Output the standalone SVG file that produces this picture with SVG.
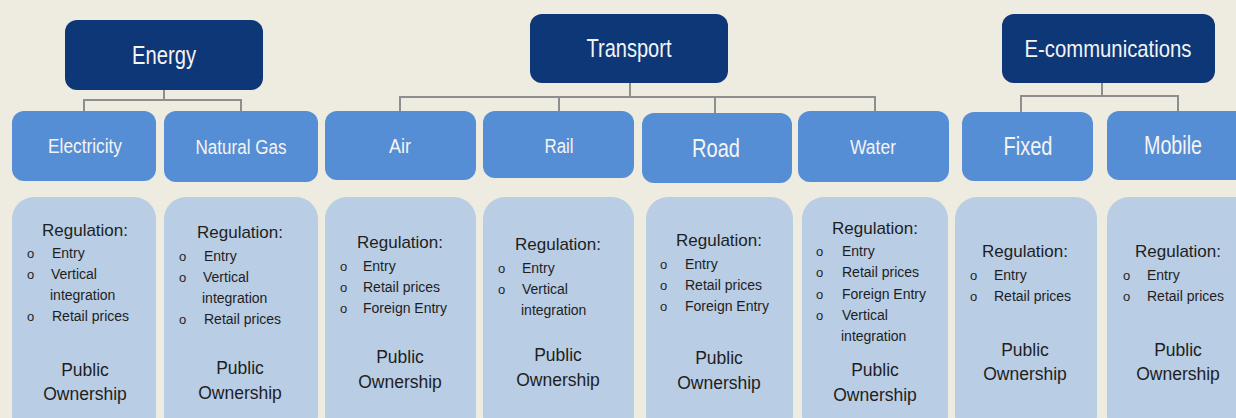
<svg xmlns="http://www.w3.org/2000/svg" width="1236" height="418" viewBox="0 0 1236 418">
  <style>
    .bg { fill: #EEEBE1; }
    .sector { fill: #0E3778; }
    .sub { fill: #568ED5; }
    .detail { fill: #B9CDE5; }
    .head { font-family: "Liberation Sans", Arial, sans-serif; fill: #F4F4F4; text-anchor: middle; }
    .body { font-family: "Liberation Sans", Arial, sans-serif; fill: #1E1E1E; }
    .title { font-size: 17px; text-anchor: middle; }
    .item { font-size: 14px; }
    .dot { font-size: 13px; }
    .own { font-size: 17.5px; text-anchor: middle; }
    .link { fill: none; stroke: #8E8E8E; stroke-width: 2; }
  </style>

  <rect class="bg" x="0" y="0" width="1236" height="418"/>

  <!-- tree connectors -->
  <g id="connectors">
    <path class="link" d="M164 90 V100 M84 111 V100 H241 V111"/>
    <path class="link" d="M630 83 V97 M400 111 V97 H875 V111 M559 97 V111 M715 97 V113"/>
    <path class="link" d="M1102 83 V96 M1021 112 V96 H1178 V111"/>
  </g>

  <!-- sectors -->
  <g id="energy">
    <rect class="sector" x="65" y="20" width="198" height="70" rx="12"/>
    <text class="head" x="164" y="64" font-size="25" textLength="64" lengthAdjust="spacingAndGlyphs">Energy</text>
  </g>
  <g id="transport">
    <rect class="sector" x="530" y="14" width="198" height="69" rx="12"/>
    <text class="head" x="629" y="57" font-size="25" textLength="85" lengthAdjust="spacingAndGlyphs">Transport</text>
  </g>
  <g id="ecommunications">
    <rect class="sector" x="1002" y="14" width="213" height="69" rx="12"/>
    <text class="head" x="1108" y="57" font-size="24" textLength="167" lengthAdjust="spacingAndGlyphs">E-communications</text>
  </g>

  <!-- sub-sectors -->
  <g id="electricity">
    <rect class="sub" x="12" y="111" width="144" height="70" rx="12"/>
    <text class="head" x="85" y="153" font-size="20" textLength="74" lengthAdjust="spacingAndGlyphs">Electricity</text>
  </g>
  <g id="natural-gas">
    <rect class="sub" x="164" y="111" width="154" height="71" rx="12"/>
    <text class="head" x="241" y="154" font-size="20" textLength="91" lengthAdjust="spacingAndGlyphs">Natural Gas</text>
  </g>
  <g id="air">
    <rect class="sub" x="325" y="111" width="151" height="69" rx="12"/>
    <text class="head" x="400" y="153" font-size="20" textLength="22" lengthAdjust="spacingAndGlyphs">Air</text>
  </g>
  <g id="rail">
    <rect class="sub" x="483" y="111" width="151" height="67" rx="12"/>
    <text class="head" x="559" y="153" font-size="20" textLength="29" lengthAdjust="spacingAndGlyphs">Rail</text>
  </g>
  <g id="road">
    <rect class="sub" x="642" y="113" width="150" height="70" rx="12"/>
    <text class="head" x="716" y="157" font-size="25" textLength="48" lengthAdjust="spacingAndGlyphs">Road</text>
  </g>
  <g id="water">
    <rect class="sub" x="798" y="111" width="151" height="71" rx="12"/>
    <text class="head" x="873" y="154" font-size="20" textLength="46" lengthAdjust="spacingAndGlyphs">Water</text>
  </g>
  <g id="fixed">
    <rect class="sub" x="962" y="112" width="131" height="69" rx="12"/>
    <text class="head" x="1028" y="155" font-size="25" textLength="49" lengthAdjust="spacingAndGlyphs">Fixed</text>
  </g>
  <g id="mobile">
    <rect class="sub" x="1107" y="111" width="145" height="69" rx="12"/>
    <text class="head" x="1173" y="154" font-size="25" textLength="58" lengthAdjust="spacingAndGlyphs">Mobile</text>
  </g>

  <!-- regulation / ownership details -->
  <g id="electricity-detail" class="body">
    <rect class="detail" x="12" y="197" width="144" height="240" rx="22"/>
    <text class="title" x="85" y="236">Regulation:</text>
    <text class="dot" x="27" y="258">o</text><text class="item" x="52" y="258">Entry</text>
    <text class="dot" x="27" y="279">o</text><text class="item" x="51" y="279">Vertical</text>
    <text class="item" x="50" y="300">integration</text>
    <text class="dot" x="27" y="321">o</text><text class="item" x="52" y="321">Retail prices</text>
    <text class="own" x="85" y="376">Public</text>
    <text class="own" x="85" y="400">Ownership</text>
  </g>
  <g id="natural-gas-detail" class="body">
    <rect class="detail" x="164" y="197" width="154" height="240" rx="22"/>
    <text class="title" x="240" y="238">Regulation:</text>
    <text class="dot" x="179" y="261">o</text><text class="item" x="204" y="261">Entry</text>
    <text class="dot" x="179" y="282">o</text><text class="item" x="203" y="282">Vertical</text>
    <text class="item" x="202" y="303">integration</text>
    <text class="dot" x="179" y="324">o</text><text class="item" x="204" y="324">Retail prices</text>
    <text class="own" x="240" y="374">Public</text>
    <text class="own" x="240" y="399">Ownership</text>
  </g>
  <g id="air-detail" class="body">
    <rect class="detail" x="325" y="197" width="151" height="240" rx="22"/>
    <text class="title" x="400" y="248">Regulation:</text>
    <text class="dot" x="340" y="271">o</text><text class="item" x="363" y="271">Entry</text>
    <text class="dot" x="340" y="292">o</text><text class="item" x="363" y="292">Retail prices</text>
    <text class="dot" x="340" y="313">o</text><text class="item" x="363" y="313">Foreign Entry</text>
    <text class="own" x="400" y="363">Public</text>
    <text class="own" x="400" y="388">Ownership</text>
  </g>
  <g id="rail-detail" class="body">
    <rect class="detail" x="483" y="197" width="151" height="240" rx="22"/>
    <text class="title" x="558" y="250">Regulation:</text>
    <text class="dot" x="498" y="273">o</text><text class="item" x="522" y="273">Entry</text>
    <text class="dot" x="498" y="294">o</text><text class="item" x="522" y="294">Vertical</text>
    <text class="item" x="521" y="315">integration</text>
    <text class="own" x="558" y="361">Public</text>
    <text class="own" x="558" y="386">Ownership</text>
  </g>
  <g id="road-detail" class="body">
    <rect class="detail" x="646" y="197" width="147" height="240" rx="22"/>
    <text class="title" x="719" y="246">Regulation:</text>
    <text class="dot" x="660" y="269">o</text><text class="item" x="685" y="269">Entry</text>
    <text class="dot" x="660" y="290">o</text><text class="item" x="685" y="290">Retail prices</text>
    <text class="dot" x="660" y="311">o</text><text class="item" x="685" y="311">Foreign Entry</text>
    <text class="own" x="719" y="364">Public</text>
    <text class="own" x="719" y="389">Ownership</text>
  </g>
  <g id="water-detail" class="body">
    <rect class="detail" x="802" y="197" width="146" height="240" rx="22"/>
    <text class="title" x="875" y="234">Regulation:</text>
    <text class="dot" x="816" y="256">o</text><text class="item" x="842" y="256">Entry</text>
    <text class="dot" x="816" y="277">o</text><text class="item" x="842" y="277">Retail prices</text>
    <text class="dot" x="816" y="299">o</text><text class="item" x="842" y="299">Foreign Entry</text>
    <text class="dot" x="816" y="320">o</text><text class="item" x="842" y="320">Vertical</text>
    <text class="item" x="841" y="341">integration</text>
    <text class="own" x="875" y="376">Public</text>
    <text class="own" x="875" y="401">Ownership</text>
  </g>
  <g id="fixed-detail" class="body">
    <rect class="detail" x="955" y="197" width="142" height="240" rx="22"/>
    <text class="title" x="1025" y="257">Regulation:</text>
    <text class="dot" x="970" y="280">o</text><text class="item" x="994" y="280">Entry</text>
    <text class="dot" x="970" y="301">o</text><text class="item" x="994" y="301">Retail prices</text>
    <text class="own" x="1025" y="356">Public</text>
    <text class="own" x="1025" y="380">Ownership</text>
  </g>
  <g id="mobile-detail" class="body">
    <rect class="detail" x="1107" y="197" width="150" height="240" rx="22"/>
    <text class="title" x="1178" y="257">Regulation:</text>
    <text class="dot" x="1123" y="280">o</text><text class="item" x="1147" y="280">Entry</text>
    <text class="dot" x="1123" y="301">o</text><text class="item" x="1147" y="301">Retail prices</text>
    <text class="own" x="1178" y="356">Public</text>
    <text class="own" x="1178" y="380">Ownership</text>
  </g>
</svg>
